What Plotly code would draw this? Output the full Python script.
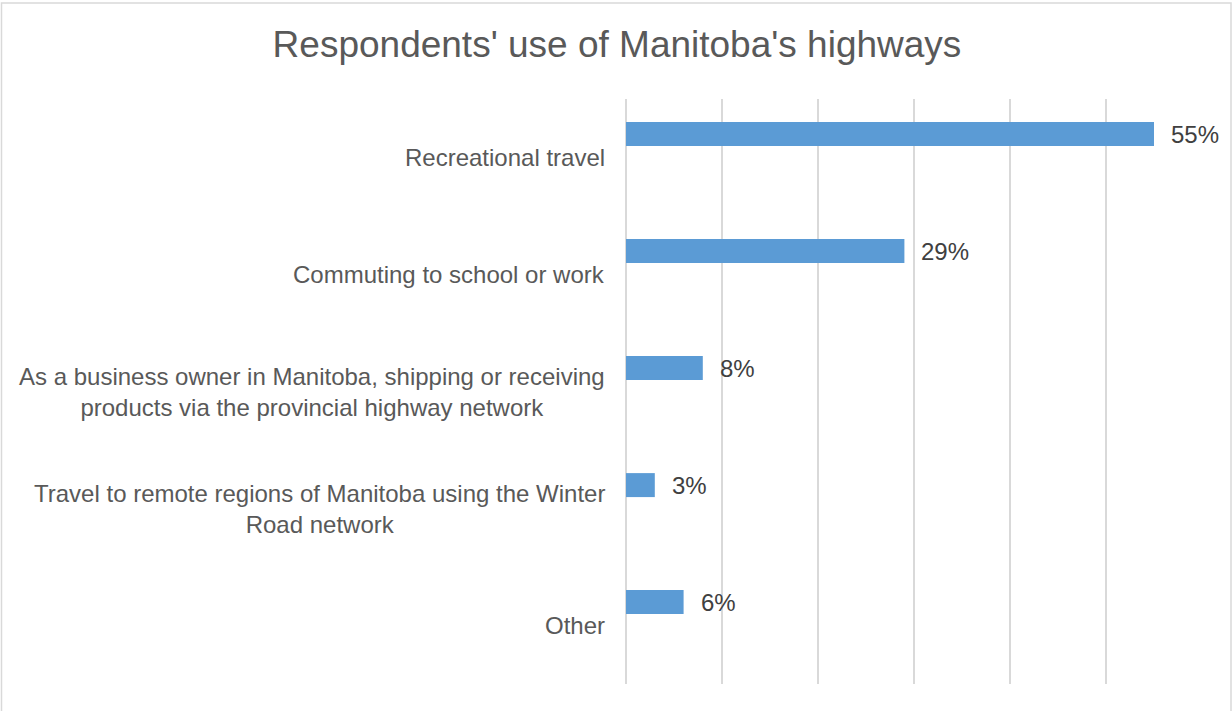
import plotly.graph_objects as go

# Survey answers (top to bottom) and the share of respondents for each
categories = [
    "Recreational travel",
    "Commuting to school or work",
    "As a business owner in Manitoba, shipping or receiving<br>products via the provincial highway network",
    "Travel to remote regions of Manitoba using the Winter<br>Road network",
    "Other",
]
shares = [0.55, 0.29, 0.08, 0.03, 0.06]
value_labels = ["55%", "29%", "8%", "3%", "6%"]
x_gridvals = [0, 0.1, 0.2, 0.3, 0.4, 0.5, 0.6]

W, H = 1232, 711
M_L, M_R, M_T, M_B = 626, 30, 99, 27
FONT = "Liberation Sans, Arial, Helvetica, sans-serif"
TEXT_GREY = "#595959"
VALUE_GREY = "#404040"
GRID = "#D9D9D9"
BAR_BLUE = "#5B9BD5"

positions = list(range(len(categories)))

fig = go.Figure()
fig.add_trace(go.Bar(
    x=shares,
    y=positions,
    orientation="h",
    width=0.205,
    offset=-0.3025,
    marker=dict(color=BAR_BLUE, line=dict(width=0)),
    hoverinfo="skip",
    showlegend=False,
))

annotations = []
# value labels just past the end of each bar
for pos, val, lab in zip(positions, shares, value_labels):
    annotations.append(dict(
        x=val, y=pos - 0.2, xref="x", yref="y",
        text=lab, showarrow=False, xanchor="left", yanchor="middle",
        xshift=15, font=dict(family=FONT, size=24, color=VALUE_GREY),
    ))

# category labels: right-aligned blocks left of the plot, lines centred within a block
for pos, cat in zip(positions, categories):
    annotations.append(dict(
        x=0, y=pos, xref="paper", yref="y",
        text=cat, showarrow=False, xanchor="right", yanchor="middle",
        align="center", xshift=-19,
        font=dict(family=FONT, size=24, color=TEXT_GREY),
    ))

fig.update_layout(annotations=annotations)

# chart-area frame
plot_w = W - M_L - M_R
plot_h = H - M_T - M_B
fig.add_shape(
    type="rect", xref="paper", yref="paper",
    x0=(1.5 - M_L) / plot_w, x1=(1231 - M_L) / plot_w,
    y0=(H - M_B - 713) / plot_h, y1=(H - M_B - 3) / plot_h,
    line=dict(color=GRID, width=1.5), fillcolor="rgba(0,0,0,0)", layer="below",
)

fig.update_layout(
    width=W, height=H,
    margin=dict(l=M_L, r=M_R, t=M_T, b=M_B, pad=0),
    paper_bgcolor="white", plot_bgcolor="white",
    title=dict(
        text="Respondents' use of Manitoba's highways",
        x=617 / W, xanchor="center", xref="container",
        y=1 - 44 / H, yanchor="middle", yref="container",
        font=dict(family=FONT, size=37, color=TEXT_GREY),
    ),
    font=dict(family=FONT, color=TEXT_GREY),
    xaxis=dict(
        range=[0, 0.6], tickvals=x_gridvals, showticklabels=False,
        showgrid=True, gridcolor=GRID, gridwidth=1.5,
        zeroline=True, zerolinecolor=GRID, zerolinewidth=1.5,
        showline=False, fixedrange=True,
    ),
    yaxis=dict(
        range=[len(categories) - 0.5, -0.5], showticklabels=False,
        showgrid=False, zeroline=False, showline=False, fixedrange=True,
    ),
)

fig.write_html("out.html")
